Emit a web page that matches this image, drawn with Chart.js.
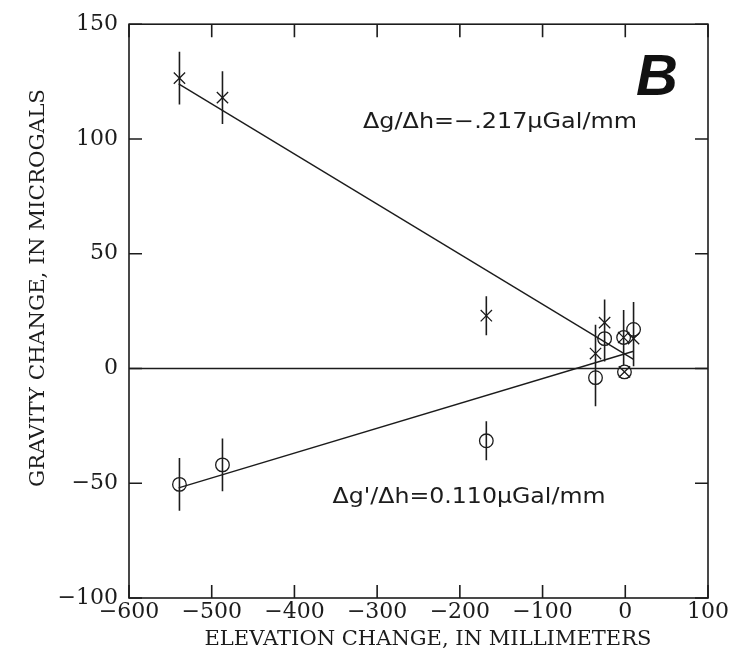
<!DOCTYPE html>
<html>
<head>
<meta charset="utf-8">
<script src="https://cdn.jsdelivr.net/npm/chart.js@4.4.1/dist/chart.umd.min.js"></script>
<style>
  html, body { margin: 0; padding: 0; background: #ffffff; }
  #wrap { width: 730px; height: 663px; }
</style>
</head>
<body>
<div id="wrap"><canvas id="c" width="730" height="663"></canvas></div>
<script>
// ---- data ----
const elevation        = [-539, -487, -168, -36, -25, -2, -1, 10];      // mm
const gravityChange    = [126.5, 118, 23, 6.5, 20, 13.5, -1.5, 13];     // Δg, μGal (×)
const gravityCorrected = [-50.5, -42, -31.5, -4, 13, 13.5, -1.5, 17];   // Δg', μGal (○)
const errorHalf        = [11.5, 11.5, 8.5, 12.5, 10, 12, 0, 12];        // ± μGal
const fitX   = [-540, 10];
const fitG   = [124, 4];        // Δg/Δh = -.217
const fitGp  = [-52, 7.5];      // Δg'/Δh = 0.110
const zeroX  = [-600, 100];
const zeroY  = [0, 0];
const xTicks = [-600, -500, -400, -300, -200, -100, 0, 100];
const yTicks = [-100, -50, 0, 50, 100, 150];
const xTitle = 'ELEVATION CHANGE, IN MILLIMETERS';
const yTitle = 'GRAVITY CHANGE, IN MICROGALS';
const noteG  = 'Δg/Δh=−.217μGal/mm';
const noteGp = "Δg'/Δh=0.110μGal/mm";
const panel  = 'B';

const INK = '#1c1c1c';

function pts(xs, ys) { return xs.map((v, i) => ({ x: v, y: ys[i] })); }
function errorSegments() {
  const out = [];
  [gravityChange, gravityCorrected].forEach(series => {
    elevation.forEach((x, i) => {
      const e = errorHalf[i];
      if (!e) return;
      out.push({ x, y: series[i] - e }, { x, y: series[i] + e }, { x, y: null });
    });
  });
  return out;
}
function fmt(v) { return String(v).replace('-', '−'); }

function drawStretched(ctx, text, cx, cy, targetW, font, rot) {
  ctx.save();
  ctx.font = font;
  const w = ctx.measureText(text).width;
  const s = targetW / w;
  ctx.translate(cx, cy);
  if (rot) ctx.rotate(rot);
  ctx.scale(s, 1);
  ctx.textAlign = 'center';
  ctx.textBaseline = 'middle';
  ctx.fillStyle = INK;
  ctx.fillText(text, 0, 0);
  ctx.restore();
}

const framePlugin = {
  id: 'frame',
  afterDraw(chart) {
    const { ctx, chartArea: a, scales: { x, y } } = chart;
    ctx.save();
    ctx.strokeStyle = INK;
    ctx.lineWidth = 1.6;
    ctx.strokeRect(a.left, a.top, a.right - a.left, a.bottom - a.top);
    const L = 13;
    ctx.beginPath();
    xTicks.forEach(v => {
      const p = x.getPixelForValue(v);
      ctx.moveTo(p, a.bottom); ctx.lineTo(p, a.bottom - L);
      ctx.moveTo(p, a.top);    ctx.lineTo(p, a.top + L);
    });
    yTicks.forEach(v => {
      const p = y.getPixelForValue(v);
      ctx.moveTo(a.left, p);  ctx.lineTo(a.left + L, p);
      ctx.moveTo(a.right, p); ctx.lineTo(a.right - L, p);
    });
    ctx.stroke();
    ctx.restore();

    // axis titles
    drawStretched(ctx, xTitle, 428, 640, 447, '20px "DejaVu Serif"', 0);
    drawStretched(ctx, yTitle, 39, 288, 398, '20px "DejaVu Serif"', -Math.PI / 2);
    // annotations
    drawStretched(ctx, noteG, 500, 123, 274, '21px "DejaVu Sans"', 0);
    drawStretched(ctx, noteGp, 469, 498, 273, '21px "DejaVu Sans"', 0);
    ctx.save();
    ctx.font = 'italic 900 58px "Liberation Sans"';
    ctx.fillStyle = '#111';
    ctx.textAlign = 'center';
    ctx.textBaseline = 'alphabetic';
    ctx.fillText(panel, 657, 95);
    ctx.restore();
  }
};

new Chart(document.getElementById('c'), {
  type: 'scatter',
  data: {
    datasets: [
      { label: 'zero', data: pts(zeroX, zeroY), showLine: true, borderColor: INK, borderWidth: 1.5, pointRadius: 0 },
      { label: 'fit Δg', data: pts(fitX, fitG), showLine: true, borderColor: INK, borderWidth: 1.4, pointRadius: 0 },
      { label: "fit Δg'", data: pts(fitX, fitGp), showLine: true, borderColor: INK, borderWidth: 1.4, pointRadius: 0 },
      { label: 'error', data: errorSegments(), showLine: true, spanGaps: false, borderColor: INK, borderWidth: 1.6, pointRadius: 0 },
      { label: 'Δg', data: pts(elevation, gravityChange), pointStyle: 'crossRot', pointRadius: 8, borderColor: INK, borderWidth: 1.3, backgroundColor: 'transparent' },
      { label: "Δg'", data: pts(elevation, gravityCorrected), pointStyle: 'circle', pointRadius: 6.8, borderColor: INK, borderWidth: 1.3, backgroundColor: 'transparent' }
    ]
  },
  options: {
    responsive: false,
    animation: false,
    events: [],
    layout: { padding: { top: 19, right: 22, left: 0, bottom: 0 } },
    plugins: { legend: { display: false }, tooltip: { enabled: false } },
    scales: {
      x: {
        type: 'linear', min: -600, max: 100,
        afterBuildTicks: s => { s.ticks = xTicks.map(v => ({ value: v })); },
        afterFit: s => { s.height = 65; },
        grid: { display: false, drawTicks: false },
        border: { display: false },
        ticks: { padding: 1, color: INK, font: { family: 'DejaVu Serif', size: 22 }, maxRotation: 0, autoSkip: false, callback: v => fmt(v) }
      },
      y: {
        type: 'linear', min: -100, max: 150,
        afterBuildTicks: s => { s.ticks = yTicks.map(v => ({ value: v })); },
        afterFit: s => { s.width = 129; },
        grid: { display: false, drawTicks: false },
        border: { display: false },
        ticks: { padding: 11, color: INK, font: { family: 'DejaVu Serif', size: 22 }, autoSkip: false, callback: v => fmt(v) }
      }
    }
  },
  plugins: [framePlugin]
});
</script>
</body>
</html>
